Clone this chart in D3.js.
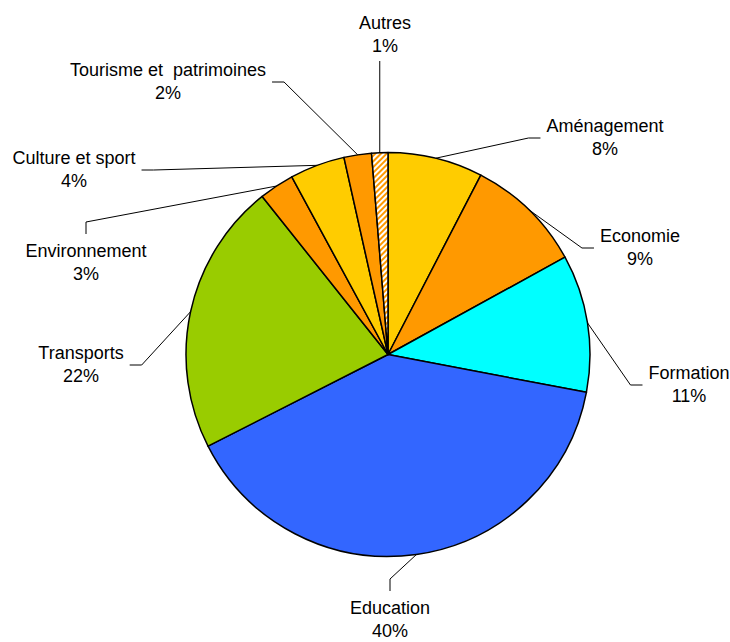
<!DOCTYPE html>
<html>
<head>
<meta charset="utf-8">
<script src="https://cdn.jsdelivr.net/npm/d3@7"></script>
<style>
  body { margin: 0; background: #fff; }
  text { font-family: "Liberation Sans", Arial, sans-serif; font-size: 18px; fill: #000; }
</style>
</head>
<body>
<div id="chart"></div>
<script>
// data (share of budget, %)
var categories = ["Aménagement", "Economie", "Formation", "Education", "Transports",
                  "Environnement", "Culture et sport", "Tourisme et  patrimoines", "Autres"];
var values = [7.6, 9.4, 11.0, 39.5, 21.8, 2.8, 4.4, 2.2, 1.3];

// colours per slice ("hatch" = striped pattern)
var colors = ["#FFCC00", "#FF9900", "#00FFFF", "#3366FF", "#99CC00",
              "#FF9900", "#FFCC00", "#FF9900", "hatch"];

// label layout: centre x, first baseline y, and which side the leader line joins
var labelPos = [[605, 132], [640, 242], [689, 379], [390, 614], [81, 359],
                [86, 257], [74, 164], [168, 76], [385, 29]];
var labelSide = ["left", "left", "left", "top", "right", "top", "right", "right", "bottom"];

var width = 730, height = 642;
var cx = 388, cy = 354.5, radius = 202;

var svg = d3.select("#chart")
  .append("svg")
  .attr("width", width)
  .attr("height", height);

var defs = svg.append("defs");
var pat = defs.append("pattern")
  .attr("id", "hatch")
  .attr("patternUnits", "userSpaceOnUse")
  .attr("width", 4)
  .attr("height", 4)
  .attr("patternTransform", "rotate(45)");
pat.append("rect").attr("width", 4).attr("height", 4).attr("fill", "#fff");
pat.append("rect").attr("width", 2).attr("height", 4).attr("fill", "#FF9900");

var data = categories.map(function(c, i) { return {name: c, value: values[i], i: i}; });

var pie = d3.pie()
  .sort(null)
  .value(function(d) { return d.value; });

var arcs = pie(data);

var arc = d3.arc().innerRadius(0).outerRadius(radius);

var g = svg.append("g")
  .attr("transform", "translate(" + cx + "," + cy + ")");

g.selectAll("path.slice")
  .data(arcs)
  .enter().append("path")
  .attr("class", "slice")
  .attr("d", arc)
  .attr("fill", function(d) { return colors[d.index] == "hatch" ? "url(#hatch)" : colors[d.index]; })
  .attr("stroke", "#000")
  .attr("stroke-width", 1.5)
  .attr("stroke-linejoin", "round");

// labels
var labels = svg.selectAll("g.lab")
  .data(arcs)
  .enter().append("g")
  .attr("class", "lab");

labels.append("text")
  .attr("x", function(d) { return labelPos[d.index][0]; })
  .attr("y", function(d) { return labelPos[d.index][1]; })
  .attr("text-anchor", "middle")
  .style("white-space", "pre")
  .attr("xml:space", "preserve")
  .text(function(d) { return d.data.name; });

labels.append("text")
  .attr("x", function(d) { return labelPos[d.index][0]; })
  .attr("y", function(d) { return labelPos[d.index][1] + 23; })
  .attr("text-anchor", "middle")
  .text(function(d) { return Math.round(d.data.value) + "%"; });

// leader lines: from the arc at mid angle, to an elbow, to the label box
var pad = 6, elbow = 12;
labels.each(function(d) {
  var bb = this.getBBox();
  var a = (d.startAngle + d.endAngle) / 2;
  var p0 = [cx + radius * Math.sin(a), cy - radius * Math.cos(a)];
  var side = labelSide[d.index];
  var p2, p1;
  var midY = labelPos[d.index][1] + 6;
  if (side == "left") {
    p2 = [bb.x - pad, midY]; p1 = [p2[0] - elbow, midY];
  } else if (side == "right") {
    p2 = [bb.x + bb.width + pad, midY]; p1 = [p2[0] + elbow, midY];
  } else if (side == "top") {
    p2 = [labelPos[d.index][0], bb.y - 7]; p1 = [p2[0], p2[1] - elbow];
  } else {
    p2 = [p0[0], bb.y + bb.height + 5]; p1 = [p2[0], p2[1] + elbow];
  }
  svg.append("polyline")
    .attr("points", [p0, p1, p2].map(function(p) { return p.join(","); }).join(" "))
    .attr("fill", "none")
    .attr("stroke", "#000")
    .attr("stroke-width", 1);
});
</script>
</body>
</html>
